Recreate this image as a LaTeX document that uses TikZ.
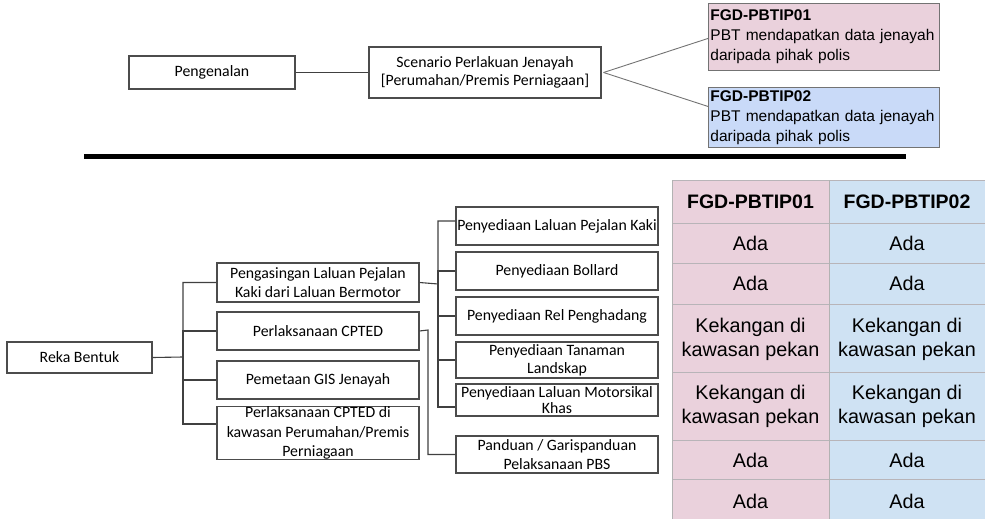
\documentclass[tikz,border=0pt]{standalone}
\usepackage{fontspec}
\newfontfamily\calfont{Carlito}
\newfontfamily\arfont{Liberation Sans}
\definecolor{pinkc}{HTML}{EAD1DC}
\definecolor{bluec}{HTML}{CFE2F3}
\definecolor{blueb}{HTML}{C9DAF8}
\definecolor{sepc}{HTML}{B8B4B8}
\begin{document}
\begin{tikzpicture}[x=1pt,y=-1pt,
 box/.style={draw=black!70, line width=1.1pt, fill=white, inner sep=0pt, align=center, font=\calfont\fontsize{15.8}{19.5}\selectfont},
 conn/.style={draw=black!75, line width=1.1pt},
 fgd/.style={draw=black!55, line width=0.9pt, inner xsep=2pt, inner ysep=0pt, align=left, anchor=north west, text width=227pt, minimum width=231pt, font=\arfont\fontsize{15.5}{20}\selectfont},
 cell/.style={font=\arfont\fontsize{19.8}{24}\selectfont, align=center, inner sep=0pt},
 hcell/.style={font=\arfont\bfseries\fontsize{19.5}{24}\selectfont, align=center, inner sep=0pt},
 sep/.style={draw=sepc, line width=0.8pt}
 ]
\useasboundingbox (0,0) rectangle (985,519);

% ---------- top part ----------
\node[box, minimum width=166pt, minimum height=33pt] (peng) at (212,72.5) {Pengenalan};
\node[box, minimum width=232pt, minimum height=51pt, font=\calfont\fontsize{15.8}{18.5}\selectfont] (scen) at (485,72.5) {Scenario Perlakuan Jenayah\\{}[Perumahan/Premis Perniagaan]};
\node[fgd, fill=pinkc, minimum height=67pt] (fgd1) at (708,3) {\textbf{FGD-PBTIP01}\\PBT mendapatkan data jenayah\\daripada pihak polis};
\node[fgd, fill=blueb, minimum height=60pt] (fgd2) at (708,87) {\textbf{FGD-PBTIP02}\\PBT mendapatkan data jenayah\\daripada pihak polis};

\draw[conn] (peng.east) -- (scen.west);
\draw[draw=black!55, line width=0.9pt] ([xshift=2pt]scen.east) -- ([yshift=-1.5pt]fgd1.west);
\draw[draw=black!55, line width=0.9pt] ([xshift=2pt]scen.east) -- ([yshift=11pt]fgd2.west);

% separator
\draw[line width=5pt] (84,156.5) -- (906,156.5);

% ---------- bottom tree ----------
\node[box, minimum width=145pt, minimum height=31pt] (reka) at (79.5,357.5) {Reka Bentuk};
\node[box, minimum width=202pt, minimum height=39pt] (s1) at (318,282.5) {Pengasingan Laluan Pejalan\\Kaki dari Laluan Bermotor};
\node[box, minimum width=202pt, minimum height=38pt] (s2) at (318,331) {Perlaksanaan CPTED};
\node[box, minimum width=202pt, minimum height=38pt] (s3) at (318,380) {Pemetaan GIS Jenayah};
\node[box, minimum width=202pt, minimum height=52pt] (s4) at (318,433) {Perlaksanaan CPTED di\\kawasan Perumahan/Premis\\Perniagaan};

\node[box, minimum width=202pt, minimum height=38pt] (t1) at (557,226) {Penyediaan Laluan Pejalan Kaki};
\node[box, minimum width=202pt, minimum height=38pt] (t2) at (557,271) {Penyediaan Bollard};
\node[box, minimum width=202pt, minimum height=38pt] (t3) at (557,316) {Penyediaan Rel Penghadang};
\node[box, minimum width=202pt, minimum height=36pt, font=\calfont\fontsize{15.8}{18}\selectfont] (t4) at (557,360) {Penyediaan Tanaman\\Landskap};
\node[box, minimum width=202pt, minimum height=32pt, font=\calfont\fontsize{15.8}{16.5}\selectfont] (t5) at (557,400) {Penyediaan Laluan Motorsikal\\Khas};
\node[box, minimum width=202pt, minimum height=37pt] (t6) at (557,454.5) {Panduan / Garispanduan\\Pelaksanaan PBS};

\coordinate (ja) at (183,357);
\coordinate (jb) at (438,284);
\coordinate (jc) at (428,330);

\draw[conn] (reka.east) -- (ja) |- (s1.west);
\draw[conn] (ja) |- (s2.west);
\draw[conn] (ja) |- (s3.west);
\draw[conn] (ja) |- ([yshift=9pt]s4.west);

\draw[conn] (s1.east) -- (jb) |- ([yshift=5pt]t1.west);
\draw[conn] (jb) |- (t2.west);
\draw[conn] (jb) |- (t3.west);
\draw[conn] (jb) |- (t4.west);
\draw[conn] (jb) |- ([yshift=-7pt]t5.west);

\draw[conn] (s2.east) -- (jc) |- (t6.west);

% ---------- table ----------
\fill[pinkc] (672,180) rectangle (829,519);
\fill[bluec] (829,180) rectangle (985,519);
\foreach \yy in {223,263,304,372,440,479} {
  \draw[sep] (672,\yy) -- (985,\yy);
}
\draw[sep] (672,180) -- (985,180);
\draw[draw=black!30, line width=0.8pt] (672,180) -- (672,519);
\draw[draw=black!30, line width=0.8pt] (829,180) -- (829,519);

\node[hcell] (h1) at (750.5,201.5) {FGD-PBTIP01};
\node[hcell] (h2) at (907,201.5) {FGD-PBTIP02};
\node[cell] (a1) at (750.5,243) {Ada};
\node[cell] (b1) at (907,243) {Ada};
\node[cell] (a2) at (750.5,283.5) {Ada};
\node[cell] (b2) at (907,283.5) {Ada};
\node[cell] (a3) at (750.5,339) {Kekangan di\\kawasan pekan};
\node[cell] (b3) at (907,339) {Kekangan di\\kawasan pekan};
\node[cell] (a4) at (750.5,406) {Kekangan di\\kawasan pekan};
\node[cell] (b4) at (907,406) {Kekangan di\\kawasan pekan};
\node[cell] (a5) at (750.5,460) {Ada};
\node[cell] (b5) at (907,460) {Ada};
\node[cell] (a6) at (750.5,501) {Ada};
\node[cell] (b6) at (907,501) {Ada};
\end{tikzpicture}
\end{document}
